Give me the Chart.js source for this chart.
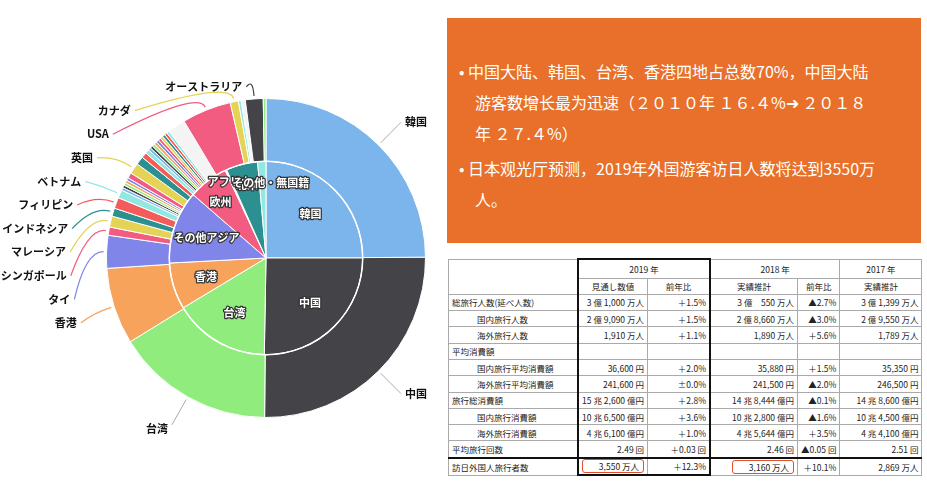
<!DOCTYPE html>
<html><head><meta charset="utf-8">
<script src="https://cdn.jsdelivr.net/npm/chart.js@4"></script>
<style>
body{margin:0;width:927px;height:491px;background:#fff;font-family:"Noto Sans CJK JP","Noto Sans",sans-serif;position:relative;overflow:hidden}
#wrap{position:absolute;left:0;top:0;width:440px;height:491px}
#box{position:absolute;left:447px;top:18px;width:474px;height:225px;background:#e8702a;color:#fff;font-size:16px;line-height:31px;box-sizing:border-box;padding:38px 40px 0 12px}
#box div{padding-left:16px;text-indent:-16px;margin-bottom:4px}
table{position:absolute;left:448px;top:258px;border-collapse:collapse;font-size:8.5px;color:#222;font-family:"Noto Sans CJK JP",sans-serif}
td{border:1px solid #aaa;height:15.3px;padding:0 3px;white-space:nowrap}
.r{text-align:right}.c{text-align:center}
.b19{border-left:2px solid #111}.b19r{border-right:2px solid #111}
.red{display:inline-block;border:1.5px solid #e0502a;border-radius:3px;padding:0 4px;min-width:52px;text-align:right}
</style></head><body>
<div id="wrap"><canvas id="c" width="440" height="491"></canvas></div>
<div id="box">
<div>• 中国大陆、韩国、台湾、香港四地占总数70%，中国大陆游客数增长最为迅速（２０１０年 １６.４%➜ ２０１８年 ２７.４%）</div>
<div>• 日本观光厅预测，2019年外国游客访日人数将达到3550万人。</div>
</div>
<table>
<tr style="height:19px"><td style="width:122px;border-bottom:none"></td><td colspan="2" class="c b19 b19r" style="border-top:2px solid #111">2019 年</td><td colspan="2" class="c">2018 年</td><td class="c">2017 年</td></tr>
<tr><td style="border-top:none"></td><td class="c b19" style="width:60px">見通し数値</td><td class="c b19r" style="width:55px">前年比</td><td class="c" style="width:80px">実績推計</td><td class="c" style="width:33px">前年比</td><td class="c" style="width:75px">実績推計</td></tr>
<tr><td>総旅行人数(延べ人数)</td><td class="r b19">3 億 1,000 万人</td><td class="r b19r">＋1.5%</td><td class="r">3 億　550 万人</td><td class="r">▲2.7%</td><td class="r">3 億 1,399 万人</td></tr>
<tr><td style="padding-left:28px">国内旅行人数</td><td class="r b19">2 億 9,090 万人</td><td class="r b19r">＋1.5%</td><td class="r">2 億 8,660 万人</td><td class="r">▲3.0%</td><td class="r">2 億 9,550 万人</td></tr>
<tr><td style="padding-left:28px">海外旅行人数</td><td class="r b19">1,910 万人</td><td class="r b19r">＋1.1%</td><td class="r">1,890 万人</td><td class="r">＋5.6%</td><td class="r">1,789 万人</td></tr>
<tr><td>平均消費額</td><td class="b19"></td><td class="b19r"></td><td></td><td></td><td></td></tr>
<tr><td style="padding-left:28px">国内旅行平均消費額</td><td class="r b19">36,600 円</td><td class="r b19r">＋2.0%</td><td class="r">35,880 円</td><td class="r">＋1.5%</td><td class="r">35,350 円</td></tr>
<tr><td style="padding-left:28px">海外旅行平均消費額</td><td class="r b19">241,600 円</td><td class="r b19r">±0.0%</td><td class="r">241,500 円</td><td class="r">▲2.0%</td><td class="r">246,500 円</td></tr>
<tr><td>旅行総消費額</td><td class="r b19">15 兆 2,600 億円</td><td class="r b19r">＋2.8%</td><td class="r">14 兆 8,444 億円</td><td class="r">▲0.1%</td><td class="r">14 兆 8,600 億円</td></tr>
<tr><td style="padding-left:28px">国内旅行消費額</td><td class="r b19">10 兆 6,500 億円</td><td class="r b19r">＋3.6%</td><td class="r">10 兆 2,800 億円</td><td class="r">▲1.6%</td><td class="r">10 兆 4,500 億円</td></tr>
<tr><td style="padding-left:28px">海外旅行消費額</td><td class="r b19">4 兆 6,100 億円</td><td class="r b19r">＋1.0%</td><td class="r">4 兆 5,644 億円</td><td class="r">＋3.5%</td><td class="r">4 兆 4,100 億円</td></tr>
<tr><td>平均旅行回数</td><td class="r b19">2.49 回</td><td class="r b19r">＋0.03 回</td><td class="r">2.46 回</td><td class="r">▲0.05 回</td><td class="r">2.51 回</td></tr>
<tr style="border-top:2px solid #111"><td>訪日外国人旅行者数</td><td class="r b19" style="border-bottom:2px solid #111"><span class="red">3,550 万人</span></td><td class="r b19r" style="border-bottom:2px solid #111">＋12.3%</td><td class="r"><span class="red">3,160 万人</span></td><td class="r">＋10.1%</td><td class="r">2,869 万人</td></tr>
</table>
<script>
const P={blue:'#7cb5ec',dark:'#434348',green:'#90ed7d',orange:'#f7a35c',purple:'#8085e9',pink:'#f15c80',yellow:'#e4d354',teal:'#2b908f',red:'#f45b5b',lt:'#91e8e1',white:'#f4f4f4'};
// outer ring: countries (share in degrees of the circle)
const countryLabels=['韓国','中国','台湾','香港','タイ','シンガポール','マレーシア','インドネシア','フィリピン','ベトナム','','','','','','','英国','','','','','','','','','','','','','','','USA','カナダ','','','オーストラリア',''];
const countryValues=[90,91,58,28,12,3,4,3,4,3,1,1,1,1,1,2,4,3,2,1.5,1,1,1,1,1,1,1,1,1,1,6.5,18,3,1,1.5,6.5,1];
const countryColors=['blue','dark','green','orange','purple','pink','yellow','teal','red','lt','blue','dark','green','orange','purple','pink','yellow','teal','red','lt','blue','dark','green','orange','purple','pink','yellow','teal','red','lt','white','pink','yellow','lt','white','dark','green'];
// inner ring: regions
const regionLabels=['韓国','中国','台湾','香港','その他アジア','欧州','アフリカ','北米','その他・無国籍'];
const regionValues=[90,91,58,28,44,24,1,19,5];
const regionColors=['blue','dark','green','orange','purple','pink','white','teal','lt'];
const labelPlugin={id:'lbl',afterDatasetsDraw(ch){
 const c=ch.ctx,m0=ch.getDatasetMeta(0),m1=ch.getDatasetMeta(1);
 const a0=m0.data[0],cx=a0.x,cy=a0.y,R=a0.outerRadius;
 c.save();c.font='bold 11px "Noto Sans CJK JP"';c.textBaseline='middle';
 const ri=m1.data[0].outerRadius;c.strokeStyle='#fff';c.lineWidth=1.5;c.beginPath();c.arc(cx,cy,ri,0,Math.PI*2);c.stroke();
 const left=[];
 countryLabels.forEach((t,i)=>{if(!t)return;const a=m0.data[i];const ang=(a.startAngle+a.endAngle)/2;
  const px=cx+Math.cos(ang)*(R+3),py=cy+Math.sin(ang)*(R+3);
  if(i<3){const lx=cx+Math.cos(ang)*(R+32),ly=cy+Math.sin(ang)*(R+32);
   c.strokeStyle='#aaa';c.lineWidth=1;c.beginPath();c.moveTo(px,py);c.quadraticCurveTo(px+Math.cos(ang)*15,py+Math.sin(ang)*15,lx,ly);c.stroke();
   c.fillStyle='#111';c.textAlign=i==2?'right':'left';c.fillText(t,i==2?lx-4:lx+4,ly+(i==2?4:0));}
  else left.push({t,px,py,ang,col:P[countryColors[i]]});});
 left.sort((a,b)=>b.ang-a.ang);
 const n=left.length;left.forEach((o,k)=>{const ly=cy-171+k*(236/(n-1));const dy=ly-cy;const lx=cx-Math.sqrt(Math.max(0,200*200-dy*dy))+(k==0?80:0);
  c.strokeStyle=o.col;c.lineWidth=1.2;c.beginPath();c.moveTo(o.px,o.py);c.quadraticCurveTo(o.px+Math.cos(o.ang)*18,o.py+Math.sin(o.ang)*18,lx+4,ly);c.stroke();
  c.fillStyle='#111';c.textAlign='right';c.fillText(o.t,lx,ly);});
 c.textAlign='center';c.lineJoin='round';
 regionLabels.forEach((t,i)=>{const a=m1.data[i];const ang=(a.startAngle+a.endAngle)/2;let r=a.outerRadius*0.65;if(i>=5)r=a.outerRadius*0.78;
  let x=cx+Math.cos(ang)*r,y=cy+Math.sin(ang)*r;if(i==6){x-=5;y-=8}if(i==5){y+=4}if(i==8){x+=8}
  c.strokeStyle='#333';c.lineWidth=2.5;c.strokeText(t,x,y);c.fillStyle='#fff';c.fillText(t,x,y);});
 c.restore();}};
new Chart(document.getElementById('c'),{type:'pie',
 data:{labels:countryLabels,datasets:[
  {data:countryValues,backgroundColor:countryColors.map(k=>P[k]),borderColor:'#fff',borderWidth:1,weight:63},
  {data:regionValues,backgroundColor:regionColors.map(k=>P[k]),borderColor:'#fff',borderWidth:1,weight:97}]},
 options:{responsive:false,animation:false,layout:{padding:{left:106,right:14,top:98,bottom:73}},
  plugins:{legend:{display:false},tooltip:{enabled:false}}},
 plugins:[labelPlugin]});
</script>
</body></html>
